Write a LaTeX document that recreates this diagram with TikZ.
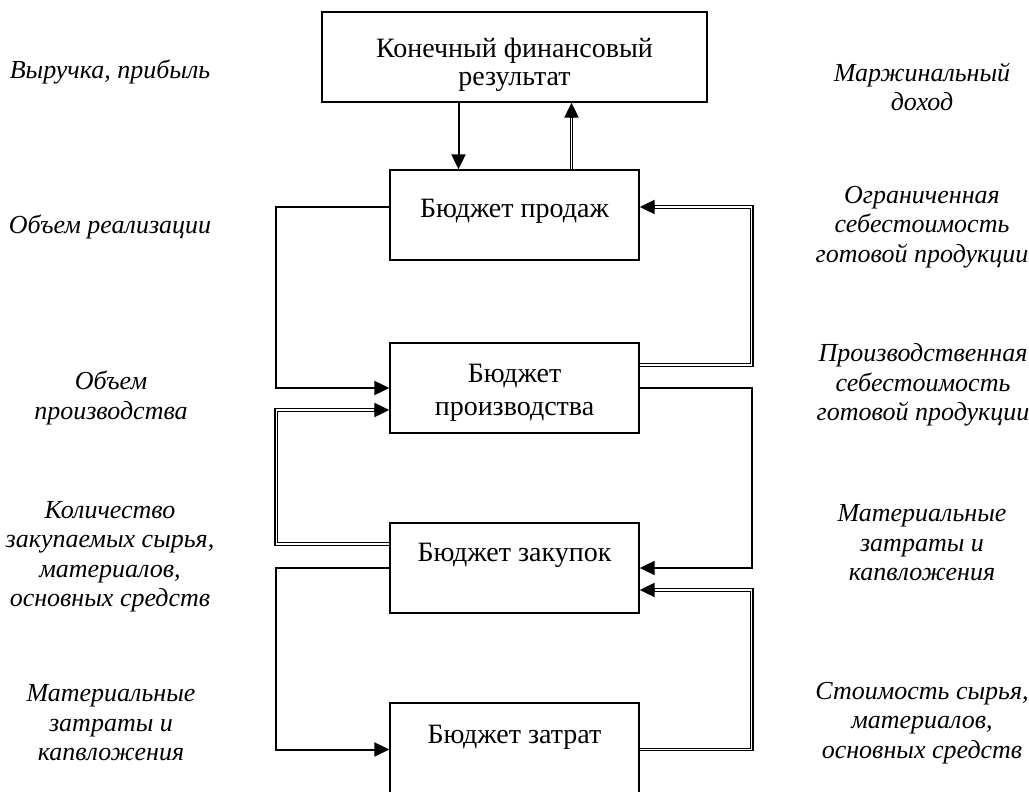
\documentclass[tikz,border=0pt]{standalone}
\usepackage{fontspec}
\setmainfont{Liberation Serif}
\usetikzlibrary{arrows.meta,positioning}

\begin{document}
\begin{tikzpicture}[
  x=0.5pt, y=-0.5pt,
  box/.style={draw, line width=0.65pt, minimum width=124.5pt, minimum height=45pt,
    font=\fontsize{14pt}{15pt}\selectfont, align=center, inner sep=2pt},
  note/.style={font=\fontsize{13pt}{14.75pt}\selectfont\itshape, align=center},
  arr/.style={-{Triangle[length=7.5pt, width=7pt]}, line width=1pt},
  dbl/.style={double, double distance=0.8pt, line width=0.55pt, shorten >=7pt},
]
\useasboundingbox (0,0) rectangle (1029,792);

% Budget boxes
\node[box, minimum width=192.5pt, font=\fontsize{14pt}{14pt}\selectfont,
  text height=32pt, text depth=3pt] (final) at (514.5,57) {Конечный финансовый\\результат};
\node[box, text height=9.5pt, text depth=7pt] (sales) at (514.5,215) {Бюджет продаж};
\node[box, font=\fontsize{14pt}{16.5pt}\selectfont,
  text height=30pt, text depth=3pt] (prod) at (514.5,388) {Бюджет\\производства};
\node[box, text height=9.5pt, text depth=16pt] (purch) at (514.5,568) {Бюджет закупок};
\node[box, minimum height=46.5pt, text height=9.5pt, text depth=15.5pt] (costs) at (514.5,749.5) {Бюджет затрат};

% Single flows
\draw[arr] ([xshift=-28pt]final.south) -- ([xshift=-28pt]sales.north);
\draw[arr] ([yshift=4pt]sales.west) -- ++(-113,0) |- (prod.west);
\draw[arr] (prod.east) -- ++(112,0) |- (purch.east);
\draw[arr] (purch.west) -- ++(-113,0) |- (costs.west);

% Double flows (tip drawn on its own)
\draw[dbl] ([xshift=28.5pt]sales.north) -- ([xshift=28.5pt]final.south);
\draw[arr] ([xshift=28.5pt,yshift=-7.5pt]final.south) -- ([xshift=28.5pt]final.south);
\draw[dbl] ([yshift=11.5pt]prod.east) -- ++(112,0) |- ([yshift=4pt]sales.east);
\draw[arr] ([xshift=7.5pt,yshift=4pt]sales.east) -- ([yshift=4pt]sales.east);
\draw[dbl] ([yshift=12pt]purch.west) -- ++(-113,0) |- ([yshift=-11pt]prod.west);
\draw[arr] ([xshift=-7.5pt,yshift=-11pt]prod.west) -- ([yshift=-11pt]prod.west);
\draw[dbl] (costs.east) -- ++(112,0) |- ([yshift=-11pt]purch.east);
\draw[arr] ([xshift=7.5pt,yshift=-11pt]purch.east) -- ([yshift=-11pt]purch.east);

% Left column notes
\node[note] (revenue) at (110,72) {Выручка, прибыль};
\node[note] (salesvol) at (110,227) {Объем реализации};
\node[note] (prodvol) at (111,398) {Объем\\производства};
\node[note] (purchqty) at (110,557) {Количество\\закупаемых сырья,\\материалов,\\основных средств};
\node[note] (matcost) at (111,723) {Материальные\\затраты и\\капвложения};

% Right column notes
\node[note] (margin) at (922,87) {Маржинальный\\доход};
\node[note] (limcost) at (922,227) {Ограниченная\\себестоимость\\готовой продукции};
\node[note] (prodcost) at (923,385) {Производственная\\себестоимость\\готовой продукции};
\node[note] (matcapex) at (922,543) {Материальные\\затраты и\\капвложения};
\node[note] (rawcost) at (922,723) {Стоимость сырья,\\материалов,\\основных средств};

\end{tikzpicture}
\end{document}
